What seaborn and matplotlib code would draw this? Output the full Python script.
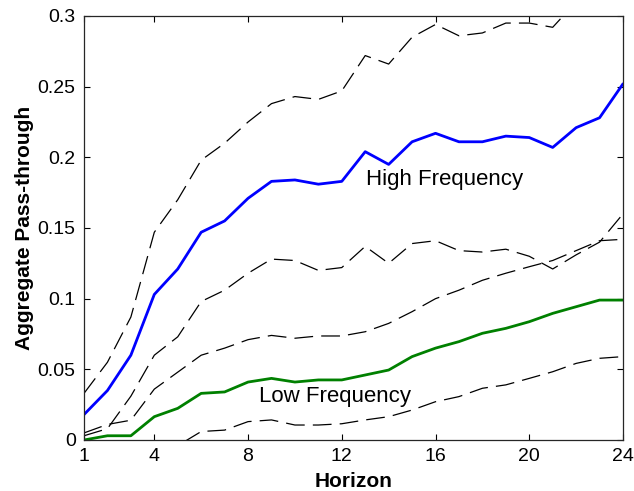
import matplotlib
matplotlib.use("Agg")
import matplotlib.pyplot as plt
import seaborn as sns
import pandas as pd

# Horizon (months) and cumulative pass-through estimates
horizon = list(range(1, 25))

high_freq = [0.018, 0.035, 0.060, 0.103, 0.121, 0.147, 0.155, 0.171, 0.183, 0.184,
             0.181, 0.183, 0.204, 0.195, 0.211, 0.217, 0.211, 0.211, 0.215, 0.214,
             0.207, 0.221, 0.228, 0.252]
high_upper = [0.033, 0.055, 0.087, 0.147, 0.170, 0.198, 0.210, 0.225, 0.238, 0.243,
              0.241, 0.247, 0.272, 0.266, 0.285, 0.294, 0.286, 0.288, 0.295, 0.295,
              0.292, 0.310, 0.320, 0.330]
high_lower = [0.003, 0.008, 0.031, 0.060, 0.073, 0.098, 0.106, 0.118, 0.128, 0.127,
              0.120, 0.122, 0.137, 0.125, 0.139, 0.141, 0.134, 0.133, 0.135, 0.130,
              0.121, 0.131, 0.140, 0.160]

low_freq = [0.000, 0.003, 0.003, 0.0165, 0.0224, 0.033, 0.034, 0.041, 0.0436, 0.041,
            0.0425, 0.0425, 0.046, 0.0495, 0.059, 0.065, 0.0696, 0.0755, 0.079, 0.0837,
            0.0896, 0.0943, 0.099, 0.099]
low_upper = [0.005, 0.011, 0.014, 0.036, 0.048, 0.060, 0.065, 0.071, 0.074, 0.072,
             0.0736, 0.0736, 0.0766, 0.0825, 0.0908, 0.100, 0.106, 0.113, 0.118, 0.1226,
             0.127, 0.134, 0.141, 0.142]
low_lower = [-0.030, -0.024, -0.018, -0.011, -0.004, 0.006, 0.007, 0.013, 0.0142, 0.0106,
             0.0106, 0.0115, 0.0142, 0.0165, 0.0212, 0.0271, 0.0307, 0.0366, 0.039, 0.0436,
             0.0483, 0.0542, 0.0578, 0.059]

x_ticks = [1, 4, 8, 12, 16, 20, 24]
y_ticks = [0, 0.05, 0.1, 0.15, 0.2, 0.25, 0.3]
y_tick_labels = ["0", "0.05", "0.1", "0.15", "0.2", "0.25", "0.3"]

sns.set_style("ticks")
plt.rcParams["font.family"] = ["Liberation Sans", "DejaVu Sans"]
plt.rcParams["text.color"] = "black"
plt.rcParams["axes.labelcolor"] = "black"

fig = plt.figure(figsize=(6.34, 4.91), dpi=100)
ax = fig.add_axes([84 / 634, 1 - 440 / 491, 539 / 634, 424 / 491])

df = pd.DataFrame({
    "Horizon": horizon,
    "high": high_freq, "high_up": high_upper, "high_lo": high_lower,
    "low": low_freq, "low_up": low_upper, "low_lo": low_lower,
})

band_kw = dict(color="black", linewidth=0.9, dashes=(15, 6.5), estimator=None)
for col in ["high_up", "high_lo", "low_up", "low_lo"]:
    sns.lineplot(data=df, x="Horizon", y=col, ax=ax, **band_kw)

sns.lineplot(data=df, x="Horizon", y="high", ax=ax, color="#0000ff",
             linewidth=2.0, estimator=None)
sns.lineplot(data=df, x="Horizon", y="low", ax=ax, color="#008000",
             linewidth=2.0, estimator=None)

ax.text(16.4, 0.184, "High Frequency", fontsize=16, color="black",
        ha="center", va="center")
ax.text(11.7, 0.031, "Low Frequency", fontsize=16, color="black",
        ha="center", va="center")

ax.set_xlim(1, 24)
ax.set_ylim(0, 0.3)
ax.set_xticks(x_ticks)
ax.set_xticklabels([str(t) for t in x_ticks])
ax.set_yticks(y_ticks)
ax.set_yticklabels(y_tick_labels)
ax.tick_params(direction="in", length=4, width=0.8, labelsize=14,
               top=True, right=True, colors="black", labelcolor="black", pad=6)
for s in ax.spines.values():
    s.set_visible(True)
    s.set_color("#262626")
    s.set_linewidth(0.9)

ax.set_xlabel("Horizon", fontsize=15, fontweight="bold", color="black", labelpad=5)
ax.set_ylabel("Aggregate Pass-through", fontsize=15, fontweight="bold",
              color="black", labelpad=3)

fig.savefig("out.png", dpi=100)
